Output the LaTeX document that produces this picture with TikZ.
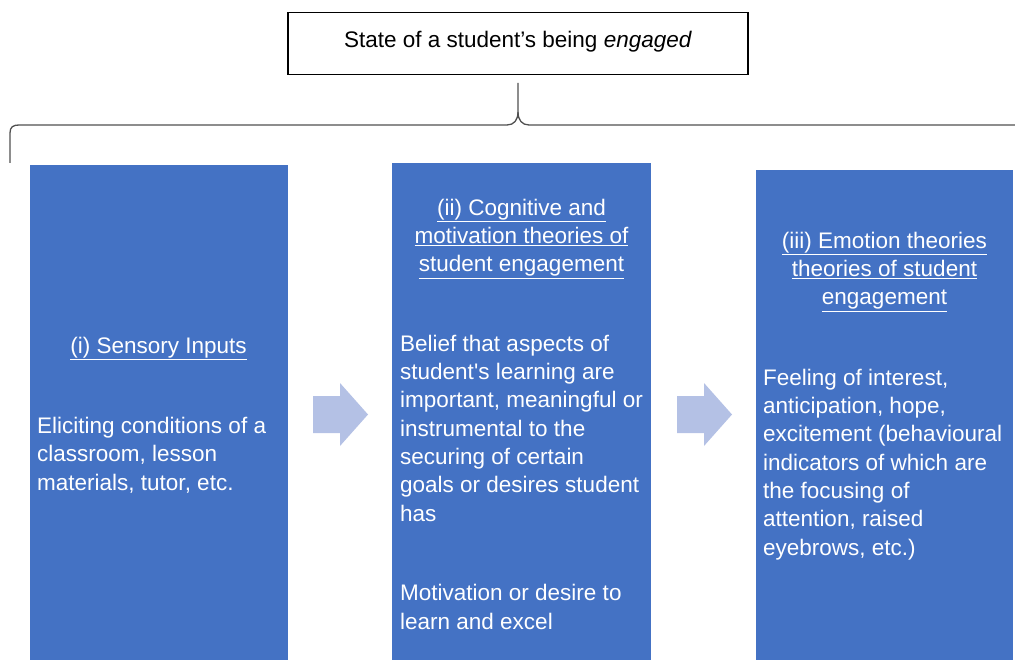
\documentclass[tikz,border=0pt]{standalone}
\usepackage{fontspec}
\setmainfont{Liberation Sans}
\usetikzlibrary{positioning}
\definecolor{boxblue}{HTML}{4472C4}
\definecolor{arrowblue}{HTML}{B4C1E5}
\definecolor{bracegray}{HTML}{505050}
\tikzset{%
  topbox/.style = {rectangle,draw=black,line width=1.2pt,fill=white,
        minimum width=460pt,minimum height=62pt,inner sep=0pt},
  bluebox/.style = {rectangle,fill=boxblue,inner sep=0pt,anchor=north west,
        minimum width=258pt},
  head/.style = {text=white,align=center,anchor=base,inner sep=0pt},
  body/.style = {text=white,align=left,anchor=base west,inner sep=0pt},
  bracel/.style = {draw=bracegray,line width=1.3pt},
  blockarrow/.style = {fill=arrowblue}
}

\begin{document}
\begin{tikzpicture}[x=1pt,y=-1pt,
  font=\fontsize{22.5}{28.3}\selectfont]
  \useasboundingbox (0,0) rectangle (1015,660);
  % top box
  \node[topbox] (state) at (518,43.5) {};
  \node[anchor=base,inner sep=0pt] (statetext) at (518,48)
    {State of a student's being \textit{engaged}};
  % brace
  \coordinate (tip) at (518,83);
  \draw[bracel] (10,163) -- (10,133) .. controls (10,127) and (13,125) .. (19,125)
    -- (507,125) .. controls (514,125) and (518,120) .. (518,112) -- (tip);
  \draw[bracel] (518,112) .. controls (518,120) and (522,125) .. (529,125)
    -- (1016,125);
  % three columns
  \node[bluebox,minimum height=495pt] (sens) at (30,165) {};
  \node[bluebox,minimum height=497pt,minimum width=259pt] (cog) at (392,163) {};
  \node[bluebox,minimum height=490pt,minimum width=257pt] (emo) at (756,170) {};
  % (i)  (multi-line nodes: base is the last line)
  \node[head] (senshead) at (158.5,353) {\underline{(i) Sensory Inputs}};
  \node[body] (sensbody) at (37,490) {Eliciting conditions of a\\
    classroom, lesson\\ materials, tutor, etc.};
  % (ii)
  \node[head] (coghead) at (521.5,272) {\underline{(ii) Cognitive and}\\
    \underline{motivation theories of}\\ \underline{student engagement}};
  \node[body] (cogbody) at (400,521) {Belief that aspects of\\
    student\textquotesingle s learning are\\ important, meaningful or\\
    instrumental to the\\ securing of certain\\
    goals or desires student\\ has};
  \node[body] (cogmot) at (400,629) {Motivation or desire to\\ learn and excel};
  % (iii)
  \node[head] (emohead) at (884.5,305) {\underline{(iii) Emotion theories}\\
    \underline{theories of student}\\ \underline{engagement}};
  \node[body] (emobody) at (763,555) {Feeling of interest,\\
    anticipation, hope,\\ excitement (behavioural\\
    indicators of which are\\ the focusing of\\
    attention, raised\\ eyebrows, etc.)};
  % arrows between columns
  \foreach \ax in {313,677}
    \fill[blockarrow] (\ax,396) -- (\ax+27,396) -- (\ax+27,383) -- (\ax+55,414.5)
      -- (\ax+27,446) -- (\ax+27,433) -- (\ax,433) -- cycle;
\end{tikzpicture}
\end{document}
